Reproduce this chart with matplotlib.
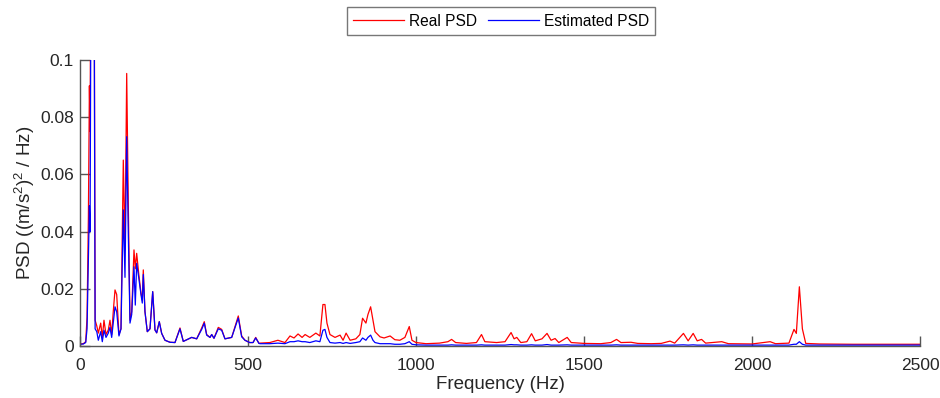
import matplotlib
matplotlib.use('Agg')
import matplotlib.pyplot as plt

# frequency grid (Hz), with PSD values for both series
freq_hz = [0, 10, 17, 21, 25, 28, 30, 33, 38, 42, 45, 50, 54.5, 61.6, 66.4, 71.4, 77.4, 84.2, 89.3, 94.3,
           99, 104.2, 109.2, 116, 122, 128.9, 133.9, 139, 143.7, 148.8, 153.9, 160.7, 164.6, 168.7, 174.7,
           181.5, 185.4, 188.4, 193.4, 200.3, 208.3, 216.4, 223.2, 228.3, 236, 243.1, 253, 267.8, 282.7,
           297.6, 307.4, 332.4, 347.3, 362.2, 369.9, 377, 386.9, 392, 398.8, 411.6, 421.7, 431.5, 451.5,
           471.1, 481.2, 491, 505, 515, 522.9, 532.7,
           536, 565, 589, 610, 625, 637, 649, 661, 670, 684, 702, 714, 723, 729, 735, 744, 759, 774, 783,
           792, 804, 821, 833, 841, 851, 857, 865, 872, 878, 893, 905, 923, 937, 952, 967, 980, 988, 1000,
           1030, 1070, 1095, 1106, 1118, 1150, 1180, 1195, 1205, 1240, 1265, 1283, 1292, 1300, 1312, 1330,
           1344, 1355, 1375, 1390, 1402, 1414, 1425, 1450, 1462, 1500, 1550, 1580, 1597, 1610, 1640, 1660,
           1700, 1730, 1756, 1770, 1796, 1810, 1825, 1837, 1850, 1862, 1910, 1930, 2000, 2054, 2070, 2110,
           2125, 2132, 2141, 2150, 2160, 2200, 2300, 2400, 2500]

real_psd = [0.0007, 0.0008, 0.0015, 0.010, 0.045, 0.091, 0.075, 0.160, 0.200, 0.150, 0.009, 0.007, 0.0045,
            0.008, 0.003, 0.009, 0.004, 0.0056, 0.009, 0.004,
            0.012, 0.0196, 0.018, 0.004, 0.006, 0.065, 0.0336, 0.0953, 0.05, 0.009, 0.012, 0.0336, 0.027,
            0.0324, 0.0254,
            0.0185, 0.016, 0.0266, 0.012, 0.005, 0.006, 0.019, 0.0056, 0.0046, 0.0085, 0.0044, 0.002, 0.0013,
            0.0012,
            0.0063, 0.0016, 0.003, 0.0025, 0.0063, 0.0085, 0.004, 0.003, 0.004, 0.0027, 0.0065, 0.0058,
            0.0025, 0.003,
            0.0105, 0.0035, 0.002, 0.0012, 0.0012, 0.003, 0.0009,
            0.001, 0.0012, 0.002, 0.0012, 0.0035, 0.0028, 0.0042, 0.003, 0.004, 0.003, 0.0045, 0.0035, 0.0145,
            0.0145, 0.008, 0.004, 0.003, 0.0038, 0.002,
            0.0045, 0.002, 0.0025, 0.004, 0.0097, 0.008, 0.011, 0.0137, 0.009, 0.005, 0.0032, 0.0028, 0.0035,
            0.0022, 0.002, 0.003, 0.0068, 0.002, 0.0012,
            0.0008, 0.001, 0.0015, 0.0023, 0.0012, 0.0009, 0.0012, 0.004, 0.0015, 0.0012, 0.0015, 0.0047,
            0.0025, 0.003, 0.0012, 0.0015,
            0.0043, 0.0018, 0.0025, 0.0044, 0.002, 0.0026, 0.0012, 0.003, 0.0012, 0.0009, 0.0008, 0.0012,
            0.0023, 0.0012, 0.0013, 0.0009,
            0.0008, 0.0009, 0.0017, 0.001, 0.0044, 0.0018, 0.0044, 0.0018, 0.0023, 0.001, 0.0015, 0.0008,
            0.0007, 0.0015, 0.0008, 0.001,
            0.0058, 0.0044, 0.0207, 0.006, 0.0009, 0.0007, 0.0006, 0.0006, 0.0006]

est_psd = [0.0006, 0.0007, 0.0012, 0.006, 0.030, 0.049, 0.040, 0.140, 0.180, 0.130, 0.006, 0.005, 0.002,
           0.005, 0.0015, 0.0055, 0.003, 0.0045, 0.0065, 0.003,
           0.008, 0.0137, 0.012, 0.0035, 0.006, 0.0476, 0.024, 0.0732, 0.04, 0.008, 0.011, 0.0277, 0.0143,
           0.0289, 0.024,
           0.018, 0.015, 0.025, 0.012, 0.005, 0.006, 0.019, 0.0056, 0.0046, 0.0085, 0.0044, 0.002, 0.0013,
           0.0012,
           0.006, 0.0016, 0.003, 0.0025, 0.0058, 0.008, 0.0038, 0.003, 0.004, 0.0027, 0.006, 0.0055,
           0.0025, 0.003,
           0.0098, 0.0032, 0.002, 0.0012, 0.0012, 0.0028, 0.0009,
           0.0008, 0.0008, 0.001, 0.0008, 0.0015, 0.0015, 0.0018, 0.0015, 0.0015, 0.0012, 0.0018, 0.0015,
           0.0055, 0.0058, 0.003, 0.0012, 0.001, 0.0012, 0.0009,
           0.0012, 0.0009, 0.0012, 0.0015, 0.0028, 0.002, 0.003, 0.0038, 0.002, 0.0012, 0.0008, 0.0008,
           0.0008, 0.0006, 0.0006, 0.0008, 0.0015, 0.0006, 0.0004,
           0.0003, 0.0003, 0.0003, 0.0004, 0.0003, 0.0003, 0.0003, 0.0004, 0.0003, 0.0003, 0.0003, 0.0005,
           0.0004, 0.0004, 0.0003, 0.0003,
           0.0004, 0.0003, 0.0003, 0.0005, 0.0003, 0.0003, 0.0003, 0.0004, 0.0003, 0.0003, 0.0003, 0.0003,
           0.0004, 0.0003, 0.0003, 0.0003,
           0.0003, 0.0003, 0.0003, 0.0003, 0.0004, 0.0003, 0.0004, 0.0003, 0.0003, 0.0003, 0.0003, 0.0003,
           0.0003, 0.0003, 0.0003, 0.0003,
           0.0006, 0.0006, 0.0015, 0.0006, 0.0003, 0.0003, 0.0003, 0.0003, 0.0003]

x_ticks = [0, 500, 1000, 1500, 2000, 2500]
y_ticks = [0, 0.02, 0.04, 0.06, 0.08, 0.1]
y_tick_labels = ['0', '0.02', '0.04', '0.06', '0.08', '0.1']

plt.rcParams['font.family'] = ['Liberation Sans', 'DejaVu Sans']
plt.rcParams['mathtext.fontset'] = 'custom'
plt.rcParams['mathtext.rm'] = 'Liberation Sans'
plt.rcParams['mathtext.it'] = 'Liberation Sans'

fig = plt.figure(figsize=(9.4, 3.98), dpi=100)
ax = fig.add_axes([0.0851, 0.1307, 0.8936, 0.7185])

ax.plot(freq_hz, real_psd, color='#ff0000', linewidth=0.9, label='Real PSD')
ax.plot(freq_hz, est_psd, color='#0000ff', linewidth=0.9, label='Estimated PSD')

ax.set_xlim(0, 2500)
ax.set_ylim(0, 0.1)
ax.set_xticks(x_ticks)
ax.set_yticks(y_ticks)
ax.set_yticklabels(y_tick_labels)

for side in ['top', 'right']:
    ax.spines[side].set_visible(False)
for side in ['left', 'bottom']:
    ax.spines[side].set_color('#555555')
    ax.spines[side].set_linewidth(1.0)

ax.tick_params(direction='in', length=7, width=1, color='#555555',
               labelsize=12.5, labelcolor='#262626')
ax.tick_params(axis='x', pad=9)
ax.tick_params(axis='y', pad=4.5)

ax.set_xlabel('Frequency (Hz)', fontsize=13.5, color='#262626', labelpad=2)
ax.set_ylabel(r'PSD ((m/s$^2$)$^2$ / Hz)', fontsize=13.5, color='#262626', labelpad=2)

leg = fig.legend(loc='center', bbox_to_anchor=(0.533, 0.947), ncol=2, fontsize=11.2,
                 frameon=True, fancybox=False, handlelength=3.25, columnspacing=0.75,
                 handletextpad=0.32, borderpad=0.4, borderaxespad=0.0)
leg.get_frame().set_edgecolor('#555555')
leg.get_frame().set_linewidth(1.0)
for h in leg.get_lines():
    h.set_linewidth(0.9)

fig.savefig('out.png', dpi=100)
